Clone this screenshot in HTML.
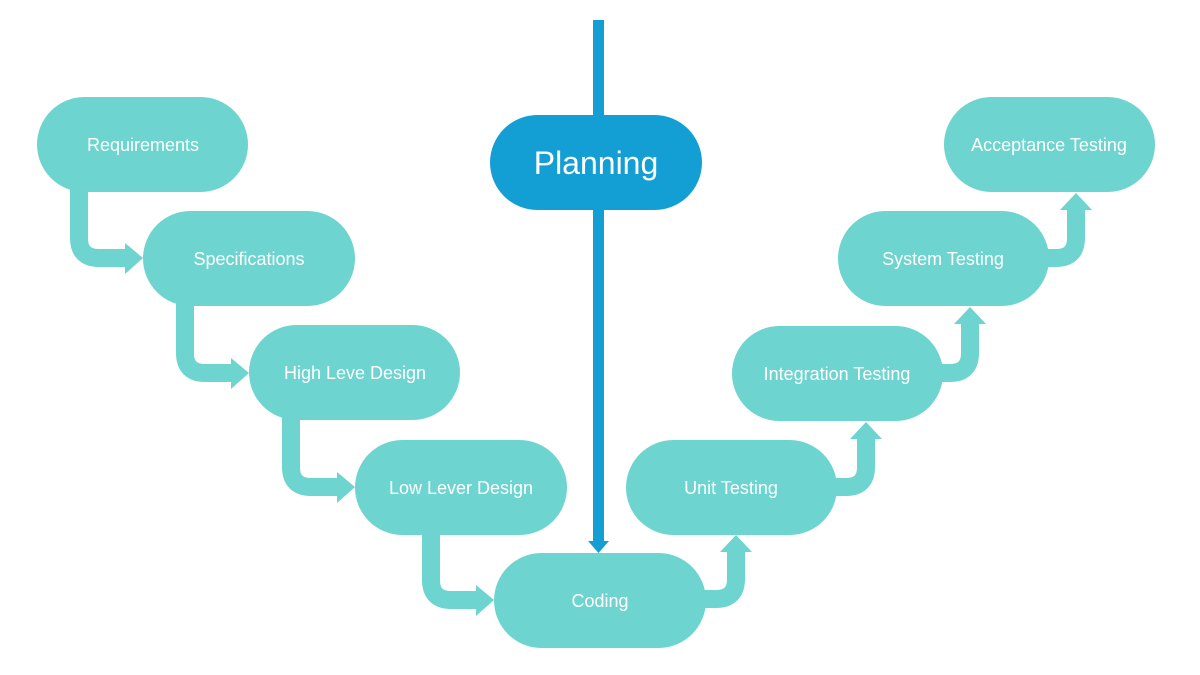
<!DOCTYPE html>
<html><head><meta charset="utf-8"><style>
html,body{margin:0;padding:0;background:#fff;}
svg{display:block;}
text{font-family:"Liberation Sans",sans-serif;fill:#fff;text-anchor:middle;dominant-baseline:central;}
</style></head><body>
<svg width="1200" height="675" viewBox="0 0 1200 675" xmlns="http://www.w3.org/2000/svg">
<g fill="none" stroke="#6dd4d0" stroke-width="18">
<path d="M79 185 V238 Q79 258 99 258 H127"/>
<path d="M185 300 V353 Q185 373 205 373 H233"/>
<path d="M291 414 V467 Q291 487 311 487 H339"/>
<path d="M431 528 V580 Q431 600 451 600 H478"/>
<path d="M700 599 H716 Q736 599 736 579 V550"/>
<path d="M831 487 H846 Q866 487 866 467 V437"/>
<path d="M937 373 H950 Q970 373 970 353 V323"/>
<path d="M1043 258 H1056 Q1076 258 1076 238 V208"/>
</g>
<g fill="#6dd4d0">
<polygon points="125,243 143,258 125,274"/>
<polygon points="231,358 249,373 231,389"/>
<polygon points="337,472 355,487 337,503"/>
<polygon points="476,585 494,600 476,616"/>
<polygon points="720,552 736,535 752,552"/>
<polygon points="850,439 866,422 882,439"/>
<polygon points="954,324 970,307 986,324"/>
<polygon points="1060,210 1076,193 1092,210"/>
</g>
<rect x="593" y="20" width="11" height="524" fill="#139fd4"/>
<polygon points="588,541 598.5,553 609,541" fill="#139fd4"/>
<g fill="#6dd4d0">
<rect x="37" y="97" width="211" height="95" rx="47.5"/>
<rect x="143" y="211" width="212" height="95" rx="47.5"/>
<rect x="249" y="325" width="211" height="95" rx="47.5"/>
<rect x="355" y="440" width="212" height="95" rx="47.5"/>
<rect x="494" y="553" width="212" height="95" rx="47.5"/>
<rect x="626" y="440" width="211" height="95" rx="47.5"/>
<rect x="732" y="326" width="211" height="95" rx="47.5"/>
<rect x="838" y="211" width="211" height="95" rx="47.5"/>
<rect x="944" y="97" width="211" height="95" rx="47.5"/>
</g>
<rect x="490" y="115" width="212" height="95" rx="47.5" fill="#139fd4"/>
<g font-size="18">
<text x="143" y="145">Requirements</text>
<text x="249" y="259">Specifications</text>
<text x="355" y="373">High Leve Design</text>
<text x="461" y="488">Low Lever Design</text>
<text x="600" y="601">Coding</text>
<text x="731" y="488">Unit Testing</text>
<text x="837" y="374">Integration Testing</text>
<text x="943" y="259">System Testing</text>
<text x="1049" y="145">Acceptance Testing</text>
</g>
<text x="596" y="163" font-size="32">Planning</text>
</svg>
</body></html>
